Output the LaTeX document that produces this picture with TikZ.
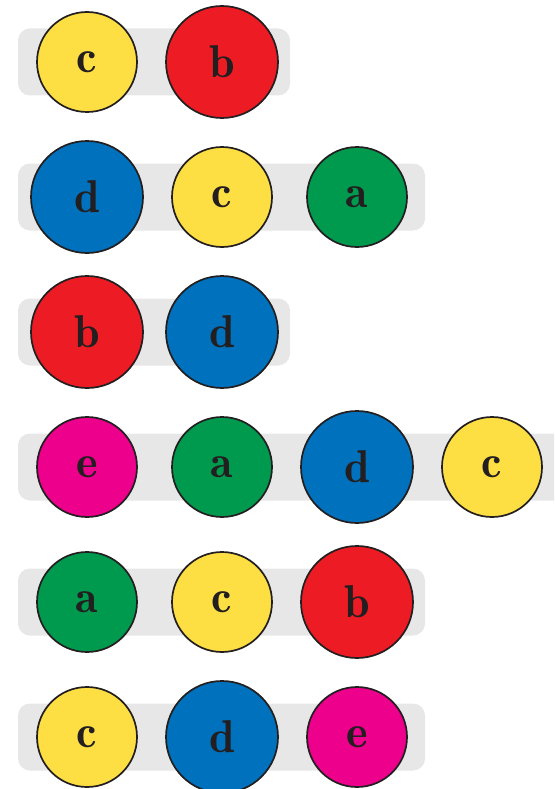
\documentclass[tikz,border=0pt]{standalone}
\usepackage{fontspec}
\usepackage{tikz}
\newfontfamily\lblfont{lmromandemi10-regular.otf}
\definecolor{cy}{HTML}{FEDF43}
\definecolor{cr}{HTML}{ED1C24}
\definecolor{cb}{HTML}{0071BC}
\definecolor{cg}{HTML}{009A4E}
\definecolor{cm}{HTML}{EC008C}
\definecolor{bar}{HTML}{E7E7E7}
\definecolor{ink}{HTML}{231F20}
\tikzset{
  ball/.style={circle, draw=ink, line width=1.7pt, inner sep=0pt, text=ink,
    font=\lblfont\fontsize{46}{46}\selectfont},
  sm/.style={ball, minimum size=100pt},
  bg/.style={ball, minimum size=112pt},
  track/.style={fill=bar, rounded corners=12pt}
}
\begin{document}
\begin{tikzpicture}[x=1pt,y=-1pt]
\useasboundingbox (0,0) rectangle (554,789);
\clip (0,0) rectangle (554,789);
% tracks
\fill[track] (18,28.5) rectangle (290,95.5);
\fill[track] (18,163.5) rectangle (425,230.5);
\fill[track] (18,298.5) rectangle (290,365.5);
\fill[track] (18,433.5) rectangle (575,500.5);
\fill[track] (18,568.5) rectangle (425,635.5);
\fill[track] (18,703.5) rectangle (425,770.5);
% row 1
\node[sm, fill=cy] (r1a) at (87,62) {c};
\node[bg, fill=cr] (r1b) at (222,62) {b};
% row 2
\node[bg, fill=cb] (r2a) at (87,197) {d};
\node[sm, fill=cy] (r2b) at (222,197) {c};
\node[sm, fill=cg] (r2c) at (357,197) {a};
% row 3
\node[bg, fill=cr] (r3a) at (87,332) {b};
\node[bg, fill=cb] (r3b) at (222,332) {d};
% row 4
\node[sm, fill=cm] (r4a) at (87,467) {e};
\node[sm, fill=cg] (r4b) at (222,467) {a};
\node[bg, fill=cb] (r4c) at (357,467) {d};
\node[sm, fill=cy] (r4d) at (492,467) {c};
% row 5
\node[sm, fill=cg] (r5a) at (87,602) {a};
\node[sm, fill=cy] (r5b) at (222,602) {c};
\node[bg, fill=cr] (r5c) at (357,602) {b};
% row 6
\node[sm, fill=cy] (r6a) at (87,737) {c};
\node[bg, fill=cb] (r6b) at (222,737) {d};
\node[sm, fill=cm] (r6c) at (357,737) {e};
\end{tikzpicture}
\end{document}
